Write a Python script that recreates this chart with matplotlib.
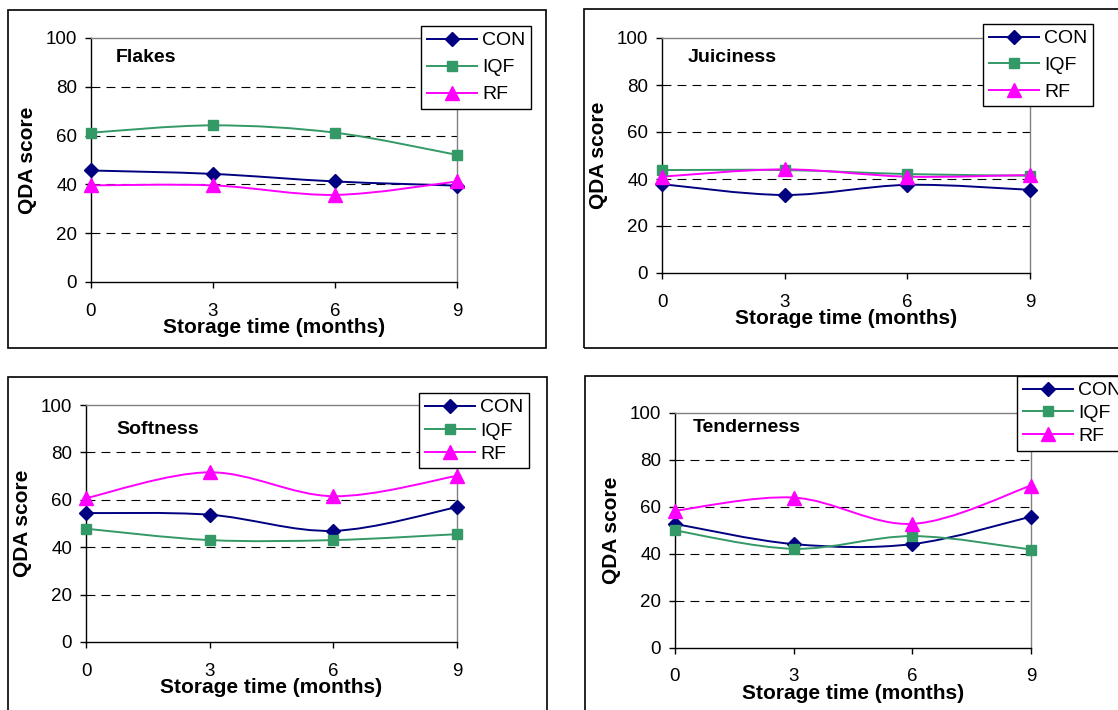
#!/usr/bin/env python3

import numpy as np
import matplotlib.pyplot as plt
from matplotlib.path import Path
from matplotlib.patches import PathPatch, Rectangle
from matplotlib.lines import Line2D

plt.rcParams['font.family'] = ['Liberation Sans', 'DejaVu Sans']

months = [ 0, 3, 6, 9 ]
groups = [ 'CON', 'IQF', 'RF' ]
yticks = [ 0, 20, 40, 60, 80, 100 ]

# QDA scores per attribute, one list per treatment (CON, IQF, RF)
flakes_con     = [ 45.7, 44.3, 41.2, 39.5 ]
flakes_iqf     = [ 61.2, 64.2, 61.2, 52.1 ]
flakes_rf      = [ 39.6, 39.6, 35.7, 41.2 ]

juiciness_con  = [ 37.8, 33.2, 37.5, 35.4 ]
juiciness_iqf  = [ 43.8, 43.8, 42.1, 41.4 ]
juiciness_rf   = [ 41.0, 44.1, 41.0, 41.7 ]

softness_con   = [ 54.4, 53.7, 46.9, 56.9 ]
softness_iqf   = [ 47.8, 43.0, 43.0, 45.5 ]
softness_rf    = [ 60.7, 71.6, 61.5, 70.1 ]

tenderness_con = [ 52.6, 44.0, 44.0, 55.7 ]
tenderness_iqf = [ 49.8, 42.0, 47.4, 41.7 ]
tenderness_rf  = [ 58.2, 63.8, 52.6, 68.9 ]

colors  = [ '#000080', '#339966', '#ff00ff' ]
markers = [ 'D', 's', '^' ]
msizes  = [ 7.0, 7.5, 10.0 ]

W, H = 1118.0, 710.0
fig = plt.figure( figsize = ( W / 100, H / 100 ), dpi = 100 )

def fbox( l, t, r, b ):
    # pixel box (top-left origin) -> figure fraction rect
    return [ l / W, 1 - b / H, ( r - l ) / W, ( b - t ) / H ]

def fpt( x, y ):
    return ( x / W, 1 - y / H )

def smooth_path( x, y ):
    # Catmull-Rom style bezier through the points, like spreadsheet smoothed lines
    x = np.asarray( x, float )
    y = np.asarray( y, float )
    p = np.column_stack( [ x, y ] )
    ext = np.vstack( [ p[0], p, p[-1] ] )
    verts = [ p[0] ]
    codes = [ Path.MOVETO ]
    for i in range( len( p ) - 1 ):
        p0, p1, p2, p3 = ext[i], ext[i+1], ext[i+2], ext[i+3]
        c1 = p1 + ( p2 - p0 ) / 6.0
        c2 = p2 - ( p3 - p1 ) / 6.0
        verts += [ c1, c2, p2 ]
        codes += [ Path.CURVE4 ] * 3
    return Path( verts, codes )

panels = [
    dict( title = 'Flakes', series = [ flakes_con, flakes_iqf, flakes_rf ],
          ax = ( 91, 38, 457, 282 ), frame = ( 8, 9.5, 546, 348 ),
          leg = ( 421, 26 ), lsp = 0.48, tpos = ( 116, 58 ) ),
    dict( title = 'Juiciness', series = [ juiciness_con, juiciness_iqf, juiciness_rf ],
          ax = ( 662, 38, 1030, 273 ), frame = ( 584, 9.3, 1130, 347.7 ),
          leg = ( 983, 24 ), lsp = 0.46, tpos = ( 688, 57 ) ),
    dict( title = 'Softness', series = [ softness_con, softness_iqf, softness_rf ],
          ax = ( 86, 405, 457, 642 ), frame = ( 8, 377.3, 547, 720 ),
          leg = ( 419, 393 ), lsp = 0.28, tpos = ( 116, 429 ) ),
    dict( title = 'Tenderness', series = [ tenderness_con, tenderness_iqf, tenderness_rf ],
          ax = ( 675, 412.5, 1031, 647.5 ), frame = ( 585, 376, 1130, 720 ),
          leg = ( 1017, 376 ), lsp = 0.26, tpos = ( 693, 427 ) ),
]

for pn in panels:
    # outer chart border
    fl, ft, fr, fb = pn['frame']
    r = fbox( fl, ft, fr, fb )
    fig.add_artist( Rectangle( ( r[0], r[1] ), r[2], r[3], transform = fig.transFigure,
                               fill = False, edgecolor = 'k', linewidth = 1.2 ) )

    ax = fig.add_axes( fbox( *pn['ax'] ) )
    ax.set_xlim( months[0], months[-1] )
    ax.set_ylim( yticks[0], yticks[-1] )
    ax.set_xticks( months )
    ax.set_yticks( yticks )

    for yv in yticks[1:-1]:
        ax.axhline( yv, color = 'k', linewidth = 0.8, linestyle = ( 0, ( 8, 5.5 ) ), zorder = 1 )

    for vals, c, m, ms in zip( pn['series'], colors, markers, msizes ):
        ax.add_patch( PathPatch( smooth_path( months, vals ), fill = False,
                                 edgecolor = c, linewidth = 1.4, zorder = 3 ) )
        ax.plot( months, vals, linestyle = 'none', marker = m, markersize = ms,
                 color = c, markeredgecolor = c, clip_on = False, zorder = 4 )

    for s in [ 'top', 'right' ]:
        ax.spines[s].set_color( '#808080' )
        ax.spines[s].set_linewidth( 1.0 )
    for s in [ 'left', 'bottom' ]:
        ax.spines[s].set_color( 'k' )
        ax.spines[s].set_linewidth( 1.0 )

    ax.tick_params( axis = 'both', direction = 'out', length = 4, width = 1,
                    labelsize = 13.5, colors = 'k' )
    ax.tick_params( axis = 'y', pad = 6 )
    ax.tick_params( axis = 'x', pad = 11 )
    ax.set_xlabel( 'Storage time (months)', fontsize = 15, fontweight = 'bold', labelpad = -1 )
    ax.set_ylabel( 'QDA score', fontsize = 15, fontweight = 'bold', labelpad = 6 )

    fig.text( *fpt( *pn['tpos'] ), pn['title'], fontsize = 14, fontweight = 'bold',
              ha = 'left', va = 'center' )

    handles = [ Line2D( [], [], color = c, linewidth = 1.4, marker = m, markersize = ms,
                        markeredgecolor = c )
                for c, m, ms in zip( colors, markers, msizes ) ]
    leg = ax.legend( handles, groups, loc = 'upper left',
                     bbox_to_anchor = fpt( *pn['leg'] ), bbox_transform = fig.transFigure,
                     borderaxespad = 0, fontsize = 14, frameon = True, fancybox = False,
                     edgecolor = 'k', framealpha = 1, handlelength = 2.6,
                     handletextpad = 0.25, labelspacing = pn['lsp'], borderpad = 0.3 )
    leg.get_frame().set_linewidth( 1.0 )

plt.savefig( 'out.png', dpi = 100 )
